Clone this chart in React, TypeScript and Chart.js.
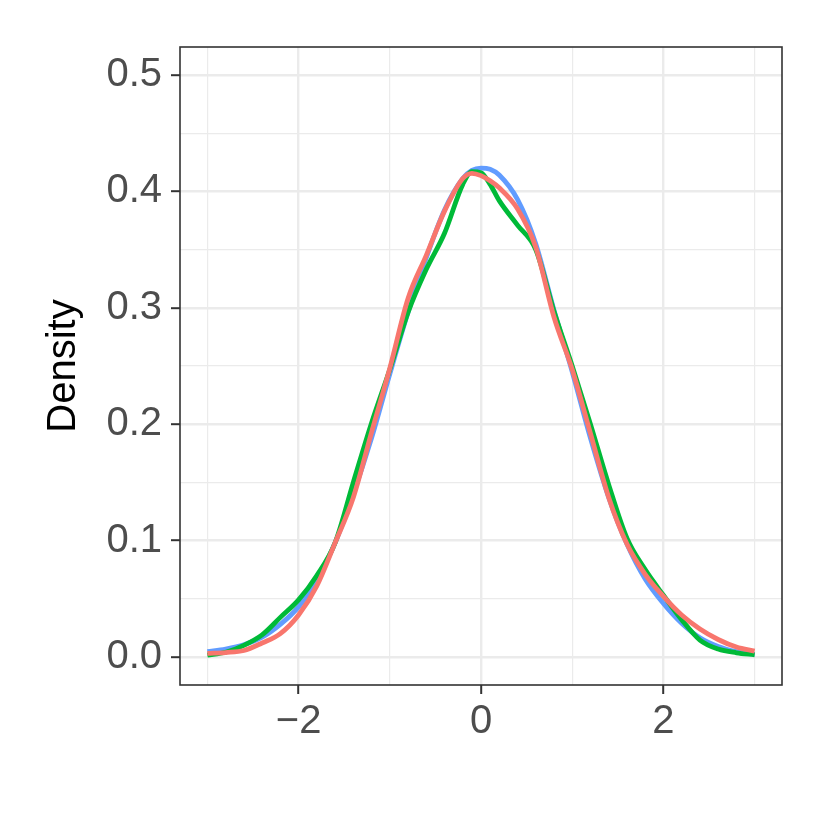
import React, { useEffect, useRef } from "react";
import { Chart, registerables } from "chart.js";

Chart.register(...registerables);

const xValues = [-3, -2.8, -2.6, -2.4, -2.2, -2, -1.8, -1.6, -1.4, -1.2, -1, -0.8, -0.6, -0.4, -0.2, -0.1, 0, 0.1, 0.2, 0.4, 0.6, 0.8, 1, 1.2, 1.4, 1.6, 1.8, 2, 2.2, 2.4, 2.6, 2.8, 3];

const blueValues = [0.0045, 0.0068, 0.0105, 0.017, 0.028, 0.043, 0.066, 0.098, 0.14, 0.188, 0.243, 0.296, 0.343, 0.384, 0.411, 0.418, 0.42, 0.419, 0.414, 0.393, 0.355, 0.298, 0.245, 0.188, 0.137, 0.097, 0.067, 0.046, 0.029, 0.0165, 0.009, 0.0045, 0.002];
const redValues = [0.003, 0.0038, 0.0055, 0.012, 0.02, 0.036, 0.061, 0.098, 0.137, 0.193, 0.248, 0.308, 0.345, 0.383, 0.411, 0.4155, 0.4135, 0.409, 0.403, 0.385, 0.352, 0.292, 0.247, 0.192, 0.137, 0.097, 0.071, 0.052, 0.036, 0.024, 0.015, 0.0085, 0.005];
const greenValues = [0.0015, 0.004, 0.01, 0.019, 0.034, 0.049, 0.07, 0.098, 0.15, 0.201, 0.247, 0.296, 0.333, 0.364, 0.406, 0.417, 0.416, 0.406, 0.392, 0.371, 0.35, 0.297, 0.25, 0.2, 0.148, 0.102, 0.075, 0.053, 0.032, 0.0145, 0.0068, 0.0036, 0.0018];

const xGridValues = [-3, -2, -1, 0, 1, 2, 3];
const xMajorTicks = [-2, 0, 2];
const xTickLabels = ["\u22122", "0", "2"];
const yGridValues = [0, 0.05, 0.1, 0.15, 0.2, 0.25, 0.3, 0.35, 0.4, 0.45, 0.5];
const yMajorTicks = [0, 0.1, 0.2, 0.3, 0.4, 0.5];
const yTickLabels = ["0.0", "0.1", "0.2", "0.3", "0.4", "0.5"];
const yTitle = "Density";

const FONT = "'Liberation Sans', Arial, Helvetica, sans-serif";

const isMajor = (v: number, majors: number[]) => majors.some((m) => Math.abs(m - v) < 1e-9);

export default function App() {
  const ref = useRef<HTMLCanvasElement | null>(null);

  useEffect(() => {
    document.body.style.margin = "0";
    const canvas = ref.current;
    if (!canvas) return;

    const toPts = (vals: number[]) => xValues.map((x, i) => ({ x, y: vals[i] }));

    const borderPlugin = {
      id: "panelBorder",
      afterDatasetsDraw(chart: any) {
        const { ctx, chartArea } = chart;
        ctx.save();
        ctx.strokeStyle = "#333333";
        ctx.lineWidth = 1.6;
        ctx.strokeRect(chartArea.left, chartArea.top, chartArea.right - chartArea.left, chartArea.bottom - chartArea.top);
        ctx.restore();
      },
    };

    const chart = new Chart(canvas, {
      type: "line",
      data: {
        datasets: [
          { label: "red", data: toPts(redValues), borderColor: "#F8766D", order: 0 },
          { label: "green", data: toPts(greenValues), borderColor: "#00BA38", order: 1 },
          { label: "blue", data: toPts(blueValues), borderColor: "#619CFF", order: 2 },
        ].map((d) => ({
          ...d,
          borderWidth: 4.8,
          pointRadius: 0,
          fill: false,
          cubicInterpolationMode: "monotone" as const,
        })),
      },
      options: {
        responsive: false,
        animation: false,
        layout: { padding: { top: 47, right: 48, left: 0, bottom: 0 } },
        plugins: { legend: { display: false }, tooltip: { enabled: false } },
        scales: {
          x: {
            type: "linear",
            min: -3.3,
            max: 3.3,
            afterBuildTicks: (scale: any) => {
              scale.ticks = xGridValues.map((v) => ({ value: v }));
            },
            afterFit: (scale: any) => {
              scale.height = 145;
            },
            border: { display: false },
            grid: {
              color: "#EBEBEB",
              lineWidth: (ctx: any) => (isMajor(ctx.tick?.value, xMajorTicks) ? 2.4 : 1.2),
              tickColor: (ctx: any) => (isMajor(ctx.tick?.value, xMajorTicks) ? "#333333" : "rgba(0,0,0,0)"),
              tickWidth: 2,
              tickLength: 9,
              drawTicks: true,
            },
            ticks: {
              autoSkip: false,
              maxRotation: 0,
              padding: 4,
              color: "#4D4D4D",
              font: { family: FONT, size: 40 },
              callback: (value: any) => {
                const i = xMajorTicks.findIndex((m) => Math.abs(m - Number(value)) < 1e-9);
                return i >= 0 ? xTickLabels[i] : "";
              },
            },
          },
          y: {
            type: "linear",
            min: -0.0241,
            max: 0.524,
            afterBuildTicks: (scale: any) => {
              scale.ticks = yGridValues.map((v) => ({ value: v }));
            },
            afterFit: (scale: any) => {
              scale.width = 180;
            },
            border: { display: false },
            grid: {
              color: "#EBEBEB",
              lineWidth: (ctx: any) => (isMajor(ctx.tick?.value, yMajorTicks) ? 2.4 : 1.2),
              tickColor: (ctx: any) => (isMajor(ctx.tick?.value, yMajorTicks) ? "#333333" : "rgba(0,0,0,0)"),
              tickWidth: 2,
              tickLength: 9,
              drawTicks: true,
            },
            ticks: {
              autoSkip: false,
              padding: 9,
              color: "#4D4D4D",
              font: { family: FONT, size: 40 },
              callback: (value: any) => {
                const i = yMajorTicks.findIndex((m) => Math.abs(m - Number(value)) < 1e-9);
                return i >= 0 ? yTickLabels[i] : "";
              },
            },
            title: {
              display: true,
              text: yTitle,
              color: "#000000",
              font: { family: FONT, size: 40 },
              padding: { top: 40, bottom: 0 },
            },
          },
        },
      },
      plugins: [borderPlugin],
    } as any);

    return () => chart.destroy();
  }, []);

  return (
    <div style={{ width: 830, height: 830, background: "#FFFFFF" }}>
      <canvas ref={ref} width={830} height={830} style={{ display: "block", width: 830, height: 830 }} />
    </div>
  );
}
